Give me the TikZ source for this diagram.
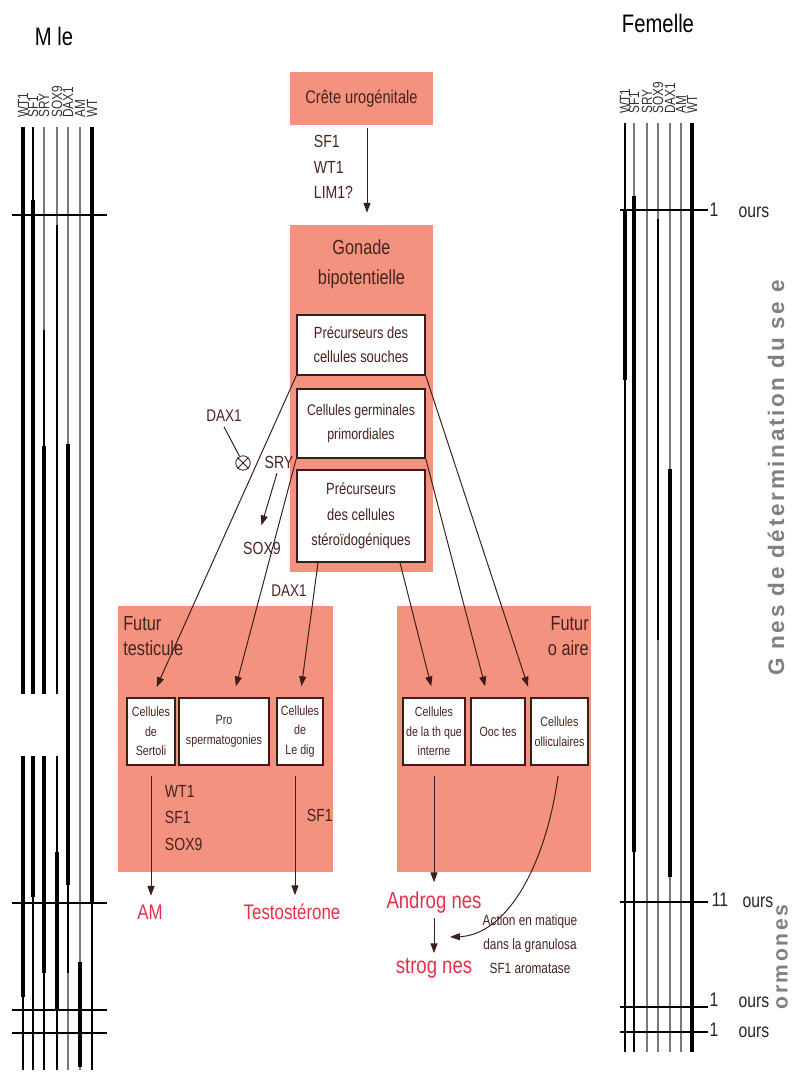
\documentclass[tikz,border=0pt]{standalone}
\usepackage{fontspec}
\setmainfont[FakeStretch=0.8]{Liberation Sans}
\newfontfamily\sidefont[LetterSpace=12]{Liberation Sans}
\usepackage{xcolor}
\usepackage{tikz}
\usetikzlibrary{arrows.meta,positioning}

\definecolor{salmon}{RGB}{243,146,126}
\definecolor{boxline}{RGB}{60,30,25}
\definecolor{inkbrown}{RGB}{70,35,30}
\definecolor{hormred}{RGB}{228,48,72}
\definecolor{geneGray}{RGB}{120,120,120}

\newcommand{\fsz}[2]{\fontsize{#1}{#2}\selectfont}

\begin{document}
\begin{tikzpicture}[x=0.025cm, y=-0.025cm,
    stage/.style={fill=salmon, inner sep=0pt, text=inkbrown},
    cellbox/.style={draw=boxline, fill=white, line width=1.1pt, align=center, inner sep=1pt, text=inkbrown},
    smallbox/.style={cellbox, minimum height=1.675cm, font=\fsz{9.5}{14}},
    arr/.style={-{Triangle[length=7pt,width=5pt]}, line width=0.7pt, draw=boxline},
    gene/.style={font=\fsz{12}{14}, text=inkbrown},
    horm/.style={font=\fsz{15}{17}, text=hormred},
    glabel/.style={font=\fsz{10.5}{11}, rotate=90, anchor=west, inner sep=0pt, text=black!80},
    daylbl/.style={font=\fsz{14}{16}, text=black!85}
  ]
  \useasboundingbox (0,0) rectangle (793,1079);

  % Male column
  \node[font=\fsz{18}{20}] (male) at (54,36) {M le};
  \foreach \x/\g in {23/WT1, 33/SF1, 44/SRY, 57/SOX9, 68/DAX1, 80/AM, 92/WT}
    \node[glabel] (mgene\x) at (\x,118) {\g};
  \foreach \x in {23,33,44,57,68,80,92}
    \draw[geneGray, line width=0.8pt] (\x,127) -- (\x,1070);
  \foreach \x/\a/\b/\w in {23/127/997/2.4, 23/997/1070/1, 33/127/200/1, 33/200/897/2.4, 33/897/1070/1,
      44/330/446/1.3, 44/446/973/2.4, 44/973/1070/1, 57/225/852/1.3, 57/852/1010/2.4, 57/1010/1070/1,
      68/444/885/2.4, 68/885/973/1, 80/962/1067/2.4, 92/127/903/2.4, 92/903/1070/1}
    \draw[black, line width=\w pt] (\x,\a) -- (\x,\b);
  \foreach \y in {215,903,1010,1033}
    \draw[black, line width=1.3pt] (12,\y) -- (107,\y);
  \fill[white] (0,694) rectangle (65,756);

  % Female column
  \node[font=\fsz{18}{20}] (female) at (658,23) {Femelle};
  \foreach \x/\g in {625/WT1, 634/SF1, 647/SRY, 658/SOX9, 670/DAX1, 681/AM, 692/WT}
    \node[glabel] (fgene\x) at (\x,114) {\g};
  \foreach \x in {625,634,647,658,670,681,692}
    \draw[geneGray, line width=0.9pt] (\x,123) -- (\x,1052);
  \foreach \x/\a/\b/\w in {625/123/209/1.3, 625/209/380/2.4, 625/380/1052/1, 625/504/575/1.8,
      634/196/852/2.4, 634/852/1052/1, 658/219/640/1.3, 670/469/877/2.4, 692/123/1052/2.4}
    \draw[black, line width=\w pt] (\x,\a) -- (\x,\b);
  \foreach \y in {210,902,1007,1032}
    \draw[black, line width=1.3pt] (620,\y) -- (708,\y);
  \node[daylbl] (dayA) at (714,210) {1};
  \node[daylbl] (oursA) at (754,212) {ours};
  \node[daylbl] (dayB) at (720,900) {11};
  \node[daylbl] (oursB) at (758,902) {ours};
  \node[daylbl] (dayC) at (714,1000) {1};
  \node[daylbl] (oursC) at (754,1002) {ours};
  \node[daylbl] (dayD) at (714,1030) {1};
  \node[daylbl] (oursD) at (754,1032) {ours};
  \node[font=\sidefont\bfseries\fsz{16}{18}, rotate=90, text=black!50] (sidelbl) at (776,478) {G nes de détermination du se e};
  \node[font=\sidefont\bfseries\fsz{15}{17}, rotate=90, text=black!50, inner sep=1pt] (hormlbl) at (782,957) {ormones};

  % Crest and bipotential gonad
  \node[stage, minimum width=3.575cm, minimum height=1.325cm, font=\fsz{13}{15}] (crest) at (361.5,98.5) {Crête urogénitale};
  \node[gene, align=left, anchor=west, font=\fsz{12.5}{18}] (crestgenes) at (309,167) {SF1\\WT1\\LIM1?};
  \node[stage, minimum width=3.575cm, minimum height=8.675cm] (gonad) at (361.5,398.5) {};
  \node[font=\fsz{14.5}{21}, align=center, text=inkbrown] (gonadlbl) at (361.5,264) {Gonade\\bipotentielle};
  \node[cellbox, minimum width=3.2cm, minimum height=1.5cm, font=\fsz{11.5}{17}] (souches) at (361,345) {Précurseurs des\\cellules souches};
  \node[cellbox, minimum width=3.2cm, minimum height=1.725cm, font=\fsz{11}{17}] (germ) at (361,423.5) {Cellules germinales\\primordiales};
  \node[cellbox, minimum width=3.2cm, minimum height=2.3cm, font=\fsz{11.5}{18}] (steroid) at (361,516) {Précurseurs\\des cellules\\stéroïdogéniques};

  % Future testis
  \node[stage, minimum width=5.375cm, minimum height=6.65cm] (testis) at (225.5,739) {};
  \node[font=\fsz{14.5}{18}, align=left, text=inkbrown, anchor=north west, inner sep=0pt] (testislbl) at (123,616) {Futur\\testicule};
  \node[smallbox, minimum width=1.2cm] (sertoli) at (151,731.5) {Cellules\\de\\Sertoli};
  \node[smallbox, minimum width=2.25cm] (prosperm) at (224,731.5) {Pro\\spermatogonies};
  \node[smallbox, minimum width=1.15cm] (leydig) at (300,731.5) {Cellules\\de\\Le dig};
  \node[gene, align=left, anchor=west, font=\fsz{12.5}{19}] (sertgenes) at (160,818) {WT1\\SF1\\SOX9};
  \node[gene, anchor=west, font=\fsz{12.5}{14}] (leygenes) at (302,815) {SF1};

  % Future ovary
  \node[stage, minimum width=4.85cm, minimum height=6.65cm] (ovary) at (494,739) {};
  \node[font=\fsz{14.5}{18}, align=right, text=inkbrown, anchor=north east, inner sep=0pt] (ovarylbl) at (589,616) {Futur\\o aire};
  \node[smallbox, minimum width=1.55cm] (theque) at (434,731.5) {Cellules\\de la th que\\interne};
  \node[smallbox, minimum width=1.35cm] (oocyte) at (498,731.5) {Ooc tes};
  \node[smallbox, minimum width=1.425cm] (follic) at (559.5,731.5) {Cellules\\olliculaires};

  % Hormones
  \node[horm] (amh) at (150,912) {AM};
  \node[horm] (testo) at (292,912) {Testostérone};
  \node[horm, font=\fsz{16.5}{18}] (andro) at (434,902) {Androg nes};
  \node[horm, font=\fsz{16.5}{18}] (oestro) at (434,968) {strog nes};
  \node[font=\fsz{10.5}{17}, align=center, text=inkbrown] (aromnote) at (530,944) {Action en  matique\\dans la granulosa\\SF1  aromatase};
  \coordinate (aromTip) at (450,937);

  % SRY / DAX1 switch
  \node[gene, font=\fsz{12}{13}] (dax) at (224,416) {DAX1};
  \node[draw=boxline, circle, inner sep=0pt, minimum size=0.36cm, line width=0.6pt] (block) at (243,463) {};
  \draw[boxline, line width=0.6pt] (block.45) -- (block.225) (block.135) -- (block.315);
  \draw[boxline, line width=0.7pt] (dax.south) -- (block);
  \node[gene, font=\fsz{12.5}{14}] (sry) at (279,462) {SRY};
  \node[gene, font=\fsz{12.5}{14}] (sox) at (262,548) {SOX9};
  \node[gene, font=\fsz{12}{13}] (daxb) at (289,591) {DAX1};

  % Arrows
  \draw[arr, shorten <=0.08cm, shorten >=0.3cm] ([xshift=0.1375cm]crest.south) -- ([xshift=0.1375cm]gonad.north);
  \draw[arr, shorten >=0.3cm] ([xshift=-0.05cm]sry.south) -- ([xshift=-0.1cm]sox.north);
  \draw[arr, shorten >=0.28cm] (souches.south west) -- ([xshift=0.025cm]sertoli.north);
  \draw[arr, shorten >=0.28cm] (souches.south east) -- ([xshift=-0.7cm]follic.north);
  \draw[arr, shorten >=0.28cm] (germ.south west) -- ([xshift=0.225cm]prosperm.north);
  \draw[arr, shorten >=0.28cm] (germ.south east) -- ([xshift=-0.25cm]oocyte.north);
  \draw[arr, shorten >=0.28cm] ([xshift=-1.075cm]steroid.south) -- (leydig.north);
  \draw[arr, shorten >=0.28cm] ([xshift=0.975cm]steroid.south) -- (theque.north);
  \draw[arr, shorten <=0.25cm, shorten >=0.1cm] (sertoli.south) -- (sertoli.south |- amh.north);
  \draw[arr, shorten <=0.25cm, shorten >=0.1cm] ([xshift=-0.125cm]leydig.south) -- ([xshift=-0.125cm]leydig.south |- testo.north);
  \draw[arr, shorten <=0.25cm, shorten >=0.1cm] (theque.south) -- (andro.north);
  \draw[arr] (andro.south) -- (oestro.north);
  \draw[arr, shorten <=0.25cm] (follic.south) .. controls (545,870) and (505,935) .. (aromTip);
\end{tikzpicture}
\end{document}
